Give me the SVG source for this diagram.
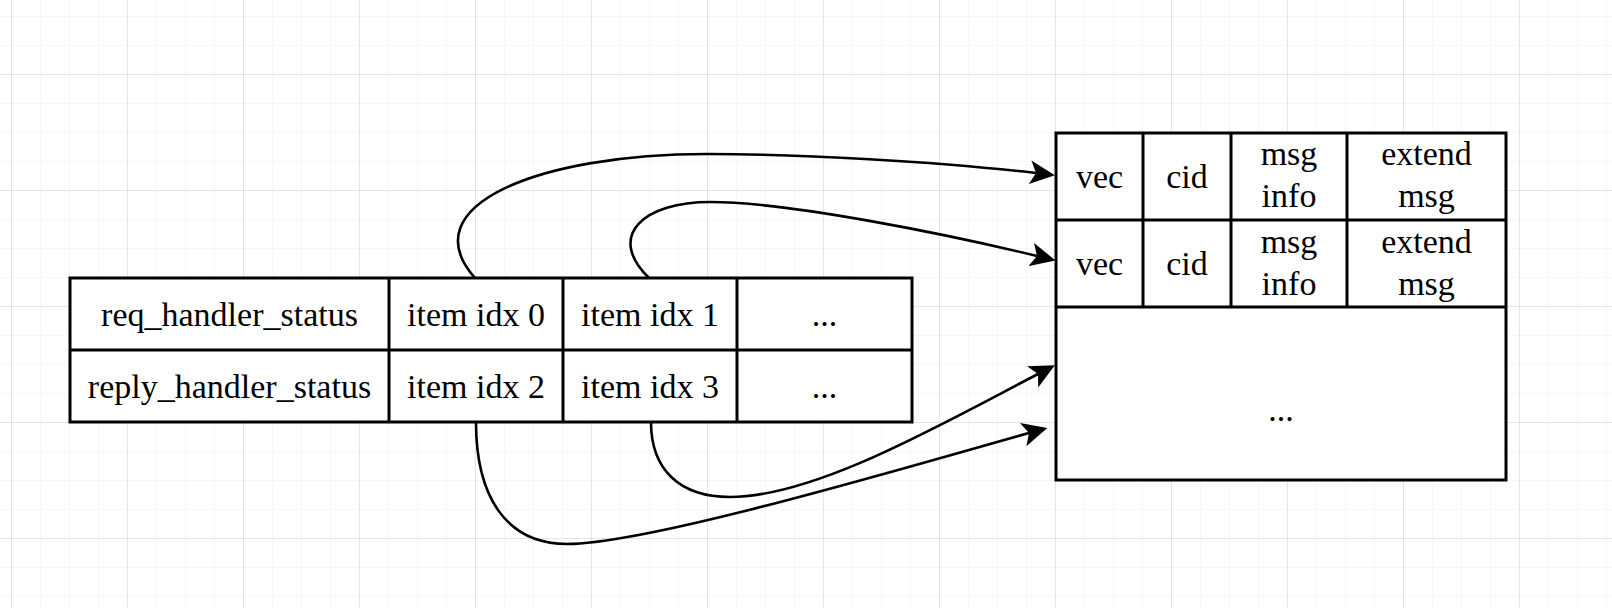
<svg xmlns="http://www.w3.org/2000/svg" width="1612" height="608" viewBox="0 0 1612 608">
  <style>
    .cell { fill: #ffffff; stroke: #000000; stroke-width: 3; }
    .line { stroke: #000000; stroke-width: 3; fill: none; }
    .t { font-family: "Liberation Serif", "Times New Roman", serif; font-size: 34px; fill: #000000; text-anchor: middle; }
    .edge { fill: none; stroke: #000000; stroke-width: 2.6; marker-end: url(#arrow); }
  </style>
  <defs>
    <pattern id="minor" x="11" y="16" width="29" height="29" patternUnits="userSpaceOnUse">
      <path d="M0,0 H29 M0,0 V29" fill="none" stroke="#efefef" stroke-width="1"/>
    </pattern>
    <pattern id="major" x="11" y="74" width="116" height="116" patternUnits="userSpaceOnUse">
      <path d="M0,0 H116 M0,0 V116" fill="none" stroke="#d6d6d6" stroke-width="1.2"/>
    </pattern>
    <marker id="arrow" viewBox="0 0 25 24" refX="6" refY="12" markerWidth="25" markerHeight="24" markerUnits="userSpaceOnUse" orient="auto">
      <path d="M0,0 L25,12 L0,24 L6,12 Z" fill="#000000"/>
    </marker>
  </defs>

  <rect width="1612" height="608" fill="#ffffff"/>
  <rect width="1612" height="608" fill="url(#minor)"/>
  <rect width="1612" height="608" fill="url(#major)"/>

  <g id="status-table">
    <rect class="cell" x="70" y="278" width="842" height="144"/>
    <path class="line" d="M70,350 H912 M389,278 V422 M563,278 V422 M737,278 V422"/>
    <text class="t" x="229.5" y="326">req_handler_status</text>
    <text class="t" x="476" y="326">item idx 0</text>
    <text class="t" x="650" y="326">item idx 1</text>
    <text class="t" x="824.5" y="326">...</text>
    <text class="t" x="229.5" y="398">reply_handler_status</text>
    <text class="t" x="476" y="398">item idx 2</text>
    <text class="t" x="650" y="398">item idx 3</text>
    <text class="t" x="824.5" y="398">...</text>
  </g>

  <g id="msg-table">
    <rect class="cell" x="1056" y="133" width="450" height="347"/>
    <path class="line" d="M1056,220 H1506 M1056,307 H1506 M1143,133 V307 M1231,133 V307 M1347,133 V307"/>
    <text class="t" x="1099.5" y="188">vec</text>
    <text class="t" x="1187" y="188">cid</text>
    <text class="t" x="1289" y="165">msg</text>
    <text class="t" x="1289" y="207">info</text>
    <text class="t" x="1426.5" y="165">extend</text>
    <text class="t" x="1426.5" y="207">msg</text>
    <text class="t" x="1099.5" y="275">vec</text>
    <text class="t" x="1187" y="275">cid</text>
    <text class="t" x="1289" y="253">msg</text>
    <text class="t" x="1289" y="295">info</text>
    <text class="t" x="1426.5" y="253">extend</text>
    <text class="t" x="1426.5" y="295">msg</text>
    <text class="t" x="1281" y="421">...</text>
  </g>

  <g id="connectors">
    <path class="edge" d="M475,278 C410,205 540,154 707,154 C800,154 937,161.5 1036,173"/>
    <path class="edge" d="M649,278 C605,235 645,202 710,202 C790,202 950,235 1037,256"/>
    <path class="edge" d="M476,422 C476,495 505,544 567,544 C650,544 914,465 1029,433"/>
    <path class="edge" d="M651,422 C651,470 680,497 730,497 C815,497 940,425 1038,374"/>
  </g>
</svg>
